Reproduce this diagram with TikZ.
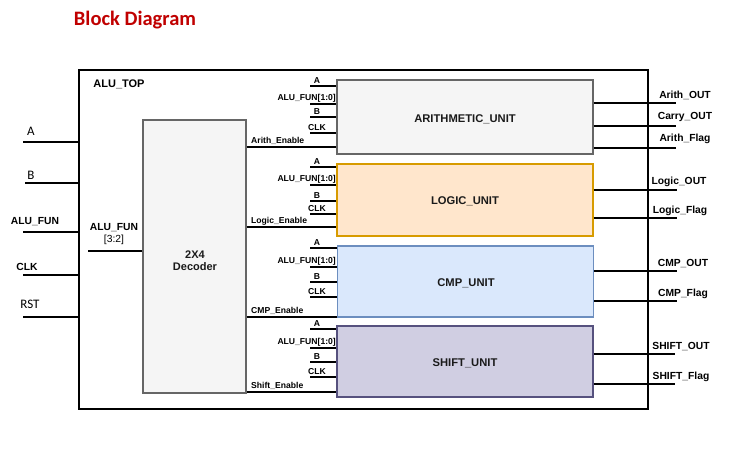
\documentclass[tikz,border=0pt]{standalone}
\usepackage{fontspec}
\setmainfont{Liberation Sans}
\newfontfamily\calib{Carlito}
\definecolor{titlered}{RGB}{192,0,0}
\definecolor{grayf}{HTML}{F5F5F5}
\definecolor{grayd}{HTML}{666666}
\definecolor{logicf}{HTML}{FFE6CC}
\definecolor{logicd}{HTML}{D79B00}
\definecolor{cmpf}{HTML}{DAE8FC}
\definecolor{cmpd}{HTML}{6C8EBF}
\definecolor{shiftf}{HTML}{D0CEE2}
\definecolor{shiftd}{HTML}{56517E}
\definecolor{txt}{HTML}{1A1A1A}
\tikzset{
  unitbox/.style={draw, line width=1.3pt, minimum width=256pt, inner sep=0pt},
  unitlbl/.style={font=\fontsize{11.2}{13}\selectfont\bfseries, text=txt, inner sep=0pt, text depth=0pt},
  wire/.style={line width=1.3pt},
  sl/.style={font=\fontsize{8.6}{10}\selectfont\bfseries, anchor=base, inner sep=0pt},
  el/.style={font=\fontsize{8.6}{10}\selectfont\bfseries, anchor=base west, inner sep=0pt},
  ol/.style={font=\fontsize{10.3}{12}\selectfont\bfseries, anchor=base, inner sep=0pt},
  il/.style={font=\fontsize{10.3}{12}\selectfont\bfseries, anchor=base, inner sep=0pt},
  cl/.style={font=\calib\fontsize{13}{15}\selectfont, anchor=base, inner sep=0pt},
}
\begin{document}
\begin{tikzpicture}[x=1pt,y=-1pt]
\useasboundingbox (0,0) rectangle (730,451);
% title
\node[font=\calib\fontsize{20.5}{24}\selectfont\bfseries, text=titlered] (title) at (135,20) {Block Diagram};
% outer box
\node[draw, line width=1.5pt, minimum width=569pt, minimum height=339pt, inner sep=0pt] (top) at (363.5,239.5) {};
\node[font=\fontsize{11}{13}\selectfont\bfseries, inner sep=0pt] (toplbl) at (119,84) {ALU\_TOP};
% decoder
\node[draw=grayd, fill=grayf, line width=1.1pt, minimum width=103pt, minimum height=273pt, inner sep=0pt] (dec) at (194.5,256.5) {};
\node[font=\fontsize{11}{12.5}\selectfont\bfseries, align=center, text=txt, inner sep=0pt] (declbl) at (195,260.5) {2X4\\Decoder};
% units
\node[unitbox, draw=grayd, fill=grayf, minimum height=74pt] (arith) at (465,117) {};
\node[unitbox, draw=logicd, fill=logicf, minimum height=72pt] (logic) at (465,200) {};
\node[unitbox, draw=cmpd, fill=cmpf, minimum height=71pt] (cmp) at (465.5,281.5) {};
\node[unitbox, draw=shiftd, fill=shiftf, minimum height=71pt] (shift) at (465,361.5) {};
\node[unitlbl] (arithl) at (465,118.5) {ARITHMETIC\_UNIT};
\node[unitlbl] (logicl) at (465,201) {LOGIC\_UNIT};
\node[unitlbl] (cmpl) at (466,283) {CMP\_UNIT};
\node[unitlbl] (shiftl) at (465,363) {SHIFT\_UNIT};
% left inputs
\coordinate (inA) at (23,142);
\coordinate (inB) at (25,183);
\coordinate (inF) at (23,232);
\coordinate (inC) at (23,275);
\coordinate (inR) at (23,317);
\draw[wire] (inA) -- (inA -| top.west);
\draw[wire] (inB) -- (inB -| top.west);
\draw[wire] (inF) -- (inF -| top.west);
\draw[wire] (inC) -- (inC -| top.west);
\draw[wire] (inR) -- (inR -| top.west);
\node[cl] (lA) at (31,135) {A};
\node[cl] (lB) at (31,179) {B};
\node[il] (lF) at (35,224) {ALU\_FUN};
\node[il] (lC) at (27,270) {CLK};
\node[cl] (lR) at (30,308) {RST};
% ALU_FUN[3:2] into decoder
\coordinate (dF) at (88,251);
\draw[wire] (dF) -- (dF -| dec.west);
\node[font=\fontsize{10.3}{12}\selectfont, align=center, inner sep=0pt] (dFl) at (114,234) {\bfseries ALU\_FUN\\{[3:2]}};
% unit inputs
\foreach \u/\ya/\yf/\yb/\yc/\ye/\en in {arith/86/104/117/133/147/Arith, logic/167/185/201/214/227/Logic, cmp/248/267/282/297/317/CMP, shift/329/348/362/377/392/Shift} {
  \coordinate (\u-a) at (310,\ya);
  \coordinate (\u-f) at (310,\yf);
  \coordinate (\u-b) at (310,\yb);
  \coordinate (\u-c) at (310,\yc);
  \coordinate (\u-e) at (250,\ye);
  \draw[wire] (\u-a) -- (\u-a -| \u.west);
  \draw[wire] (\u-f) -- (\u-f -| \u.west);
  \draw[wire] (\u-b) -- (\u-b -| \u.west);
  \draw[wire] (\u-c) -- (\u-c -| \u.west);
  \draw[wire] (\u-e -| dec.east) -- (\u-e -| \u.west);
  \node[sl] (\u-la) at (317,\ya-3) {A};
  \node[sl, anchor=base east] (\u-lf) at (336,\yf-3.5) {ALU\_FUN[1:0]};
  \node[sl] (\u-lb) at (317,\yb-3) {B};
  \node[sl] (\u-lc) at (317,\yc-3) {CLK};
  \node[el] (\u-le) at (251,\ye-4) {\en\_Enable};
}
% outputs
\coordinate (o1) at (676,103);
\coordinate (o2) at (676,126);
\coordinate (o3) at (676,148);
\coordinate (o4) at (677,190);
\coordinate (o5) at (677,218);
\coordinate (o6) at (677,271);
\coordinate (o7) at (677,301);
\coordinate (o8) at (675,354);
\coordinate (o9) at (675,384);
\draw[wire] (o1 -| arith.east) -- (o1);
\draw[wire] (o2 -| arith.east) -- (o2);
\draw[wire] (o3 -| arith.east) -- (o3);
\draw[wire] (o4 -| logic.east) -- (o4);
\draw[wire] (o5 -| logic.east) -- (o5);
\draw[wire] (o6 -| cmp.east) -- (o6);
\draw[wire] (o7 -| cmp.east) -- (o7);
\draw[wire] (o8 -| shift.east) -- (o8);
\draw[wire] (o9 -| shift.east) -- (o9);
\node[ol] (lo1) at (685,98) {Arith\_OUT};
\node[ol] (lo2) at (685,119) {Carry\_OUT};
\node[ol] (lo3) at (685,141) {Arith\_Flag};
\node[ol] (lo4) at (679,184) {Logic\_OUT};
\node[ol] (lo5) at (680,213) {Logic\_Flag};
\node[ol] (lo6) at (683,266) {CMP\_OUT};
\node[ol] (lo7) at (683,296) {CMP\_Flag};
\node[ol] (lo8) at (681,349) {SHIFT\_OUT};
\node[ol] (lo9) at (681,379) {SHIFT\_Flag};
\end{tikzpicture}
\end{document}
